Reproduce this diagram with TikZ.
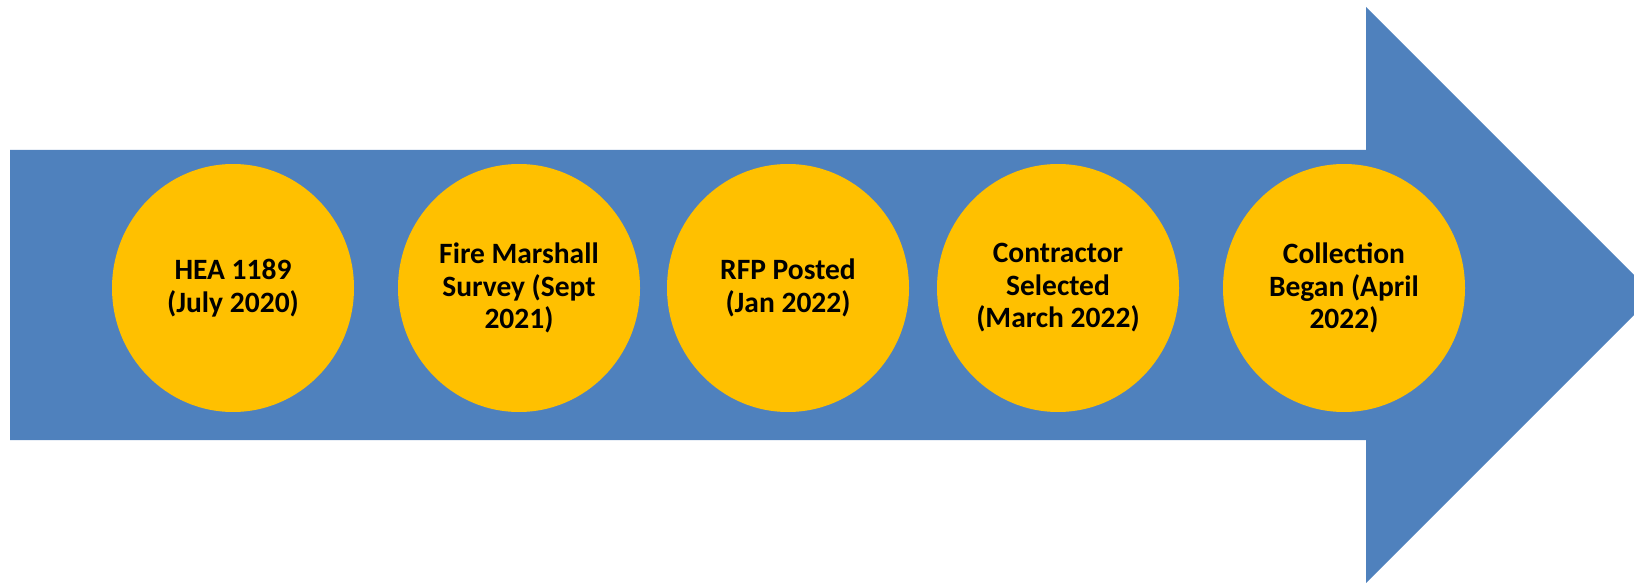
\documentclass[tikz,border=0pt]{standalone}
\usepackage{fontspec}
\setmainfont{Carlito}
\usetikzlibrary{shapes.geometric}
\definecolor{arrowblue}{HTML}{4F81BD}
\definecolor{dotyellow}{HTML}{FFC000}
\tikzset{
  milestone/.style={ellipse, fill=dotyellow, draw=none, inner sep=0pt,
    minimum width=242pt, minimum height=248pt, align=center,
    font=\bfseries\fontsize{29.5}{32.5}\selectfont, text=black}
}
\begin{document}
\begin{tikzpicture}[x=1pt,y=1pt]
\useasboundingbox (0,0) rectangle (1634,582);
\clip (0,0) rectangle (1634,582);
\fill[arrowblue] (10,142) -- (1366,142) -- (1366,-1) -- (1654,287) -- (1366,575) -- (1366,432) -- (10,432) -- cycle;
\node[milestone] (m1) at (233,294) {HEA 1189\\(July 2020)};
\node[milestone] (m2) at (519,294) {Fire Marshall\\Survey (Sept\\2021)};
\node[milestone] (m3) at (788,294) {RFP Posted\\(Jan 2022)};
\node[milestone] (m4) at (1058,294) {Contractor\\Selected\\(March 2022)};
\node[milestone] (m5) at (1344,294) {Collection\\Began (April\\2022)};
\end{tikzpicture}
\end{document}
